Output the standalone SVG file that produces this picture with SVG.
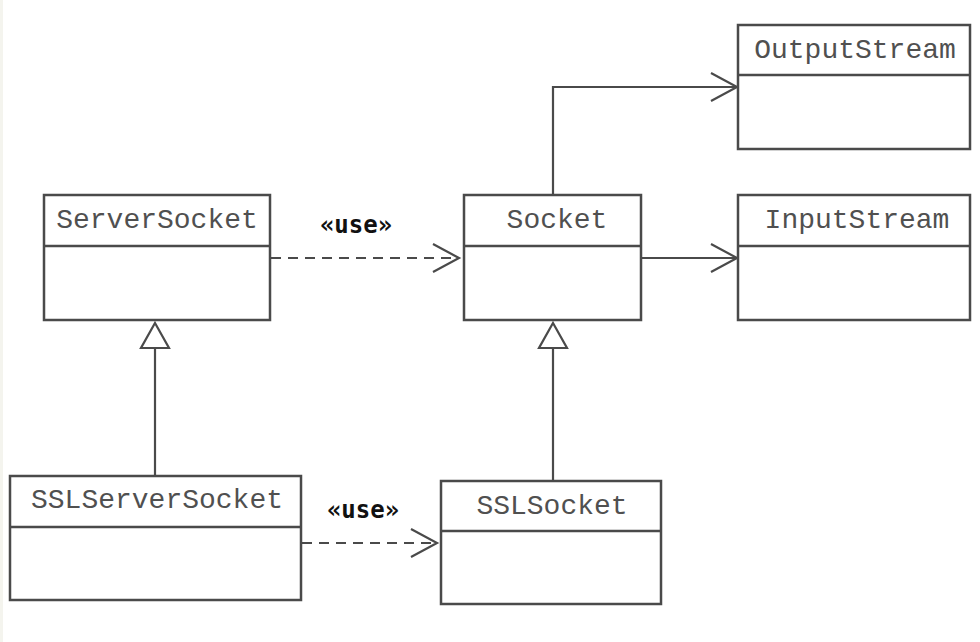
<svg xmlns="http://www.w3.org/2000/svg" width="980" height="642" viewBox="0 0 980 642">
<style>
.box{fill:#fff;stroke:#4a4a4a;stroke-width:2.5}
.div{stroke:#4a4a4a;stroke-width:2.5}
.name{font-family:"Liberation Mono","Courier New",monospace;font-size:28px;fill:#505050;text-anchor:middle}
.lbl{font-family:"DejaVu Sans Mono","Liberation Mono",monospace;font-size:24px;fill:#111;font-weight:bold;text-anchor:middle}
.ln{fill:none;stroke:#4a4a4a;stroke-width:2.2}
.dash{fill:none;stroke:#4a4a4a;stroke-width:2.2;stroke-dasharray:10 7}
.head{fill:none;stroke:#4a4a4a;stroke-width:2.2}
.tri{fill:#fff;stroke:#4a4a4a;stroke-width:2.2}
</style>
<rect width="980" height="642" fill="#fff"/>
<rect x="0" y="0" width="3" height="642" fill="#f4f4ee"/>
<g id="connectors">
  <path class="ln" d="M553 195 V87 H736"/>
  <path class="head" d="M711 73 L737 87 L711 101"/>
  <path class="ln" d="M641 258 H736"/>
  <path class="head" d="M711 244 L737 258 L711 272"/>
  <path class="dash" d="M271 258 H457"/>
  <path class="head" d="M433 244 L459 258 L433 272"/>
  <text class="lbl" x="356" y="233">«use»</text>
  <path class="dash" d="M302 543 H435"/>
  <path class="head" d="M411 529 L437 543 L411 557"/>
  <text class="lbl" x="363" y="518">«use»</text>
  <path class="ln" d="M155 476 V348"/>
  <path class="tri" d="M155 323 L169 348 L141 348 Z"/>
  <path class="ln" d="M553 481 V348"/>
  <path class="tri" d="M553 323 L567 348 L539 348 Z"/>
</g>
<g id="ServerSocket">
  <rect class="box" x="44" y="195" width="226" height="125"/>
  <line class="div" x1="44" y1="246" x2="270" y2="246"/>
  <text class="name" x="157" y="228">ServerSocket</text>
</g>
<g id="Socket">
  <rect class="box" x="464" y="195" width="177" height="125"/>
  <line class="div" x1="464" y1="246" x2="641" y2="246"/>
  <text class="name" x="557" y="228">Socket</text>
</g>
<g id="OutputStream">
  <rect class="box" x="738" y="25" width="232" height="124"/>
  <line class="div" x1="738" y1="75" x2="970" y2="75"/>
  <text class="name" x="855" y="58">OutputStream</text>
</g>
<g id="InputStream">
  <rect class="box" x="738" y="195" width="232" height="125"/>
  <line class="div" x1="738" y1="246" x2="970" y2="246"/>
  <text class="name" x="857" y="228">InputStream</text>
</g>
<g id="SSLServerSocket">
  <rect class="box" x="10" y="476" width="291" height="124"/>
  <line class="div" x1="10" y1="527" x2="301" y2="527"/>
  <text class="name" x="157" y="508">SSLServerSocket</text>
</g>
<g id="SSLSocket">
  <rect class="box" x="441" y="481" width="220" height="123"/>
  <line class="div" x1="441" y1="531" x2="661" y2="531"/>
  <text class="name" x="552" y="514">SSLSocket</text>
</g>
</svg>
